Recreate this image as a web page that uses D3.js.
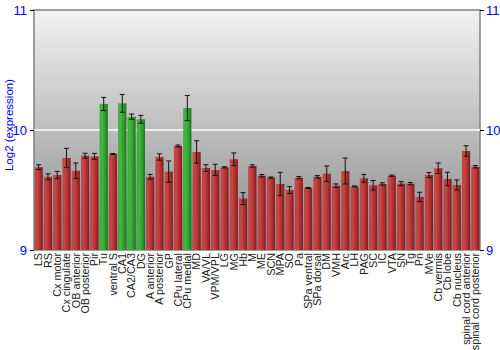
<!DOCTYPE html>
<html>
<head>
<meta charset="utf-8">
<script src="https://cdn.jsdelivr.net/npm/d3@7"></script>
<style>
  body { margin: 0; background: #fff; }
  text { font-family: "Liberation Sans", Arial, sans-serif; }
</style>
</head>
<body>
<svg id="chart" width="500" height="350"></svg>
<script>
// Regions (x categories)
var regions = ["LS", "RS", "Cx motor", "Cx cingulate", "OB anterior", "OB posterior", "Pir", "Tu",
  "ventral S", "CA1", "CA2/CA3", "DG", "A anterior", "A posterior", "GP", "CPu lateral", "CPu medial",
  "MD", "VA/VL", "VPM/VPL", "LG", "MG", "Hb", "M", "ME", "SCN", "MPA", "SO", "Pa", "SPa ventral",
  "SPa dorsal", "DM", "VMH", "Arc", "LH", "PAG", "SC", "IC", "VTA", "SN", "Tg", "Pn", "MVe",
  "Cb vermis", "Cb lobe", "Cb nucleus", "spinal cord anterior", "spinal cord posterior"];

// Log2 expression per region
var expression = [9.69, 9.61, 9.625, 9.767, 9.66, 9.786, 9.78, 10.217,
  9.80, 10.222, 10.111, 10.089, 9.61, 9.775, 9.653, 9.867, 10.183,
  9.817, 9.683, 9.667, 9.689, 9.756, 9.428, 9.70, 9.619, 9.603, 9.55, 9.50, 9.603, 9.517,
  9.61, 9.636, 9.536, 9.658, 9.53, 9.597, 9.539, 9.55, 9.619, 9.553, 9.553, 9.442, 9.625,
  9.681, 9.592, 9.542, 9.825, 9.694];

// Error (half range) per region
var errors = [0.02, 0.025, 0.03, 0.08, 0.065, 0.02, 0.025, 0.055,
  0.004, 0.074, 0.022, 0.033, 0.02, 0.026, 0.089, 0.008, 0.105,
  0.093, 0.028, 0.047, 0.005, 0.053, 0.05, 0.01, 0.01, 0.005, 0.097, 0.028, 0.01, 0.004,
  0.01, 0.064, 0.015, 0.108, 0.004, 0.033, 0.04, 0.01, 0.005, 0.017, 0.01, 0.039, 0.02,
  0.044, 0.056, 0.042, 0.044, 0.01];

// Highlighted (green) regions
var highlighted = ["Tu", "CA1", "CA2/CA3", "DG", "CPu medial"];

var yTicks = [9, 10, 11];

var svg = d3.select("#chart"),
    margin = { top: 10, right: 20, bottom: 100, left: 34 },
    width = 500 - margin.left - margin.right,
    height = 350 - margin.top - margin.bottom;

var defs = svg.append("defs");

var bg = defs.append("linearGradient").attr("id", "bg")
    .attr("x1", 0).attr("y1", 0).attr("x2", 0).attr("y2", 1);
bg.append("stop").attr("offset", "0%").attr("stop-color", "#f2f2f2");
bg.append("stop").attr("offset", "100%").attr("stop-color", "#888888");

function barGradient(id, c0, c1, c2, c3) {
  var g = defs.append("linearGradient").attr("id", id)
      .attr("x1", 0).attr("y1", 0).attr("x2", 1).attr("y2", 0);
  g.append("stop").attr("offset", "0%").attr("stop-color", c0);
  g.append("stop").attr("offset", "30%").attr("stop-color", c1);
  g.append("stop").attr("offset", "75%").attr("stop-color", c2);
  g.append("stop").attr("offset", "100%").attr("stop-color", c3);
}
barGradient("red", "#b84848", "#c84444", "#a82a2a", "#7c1a1a");
barGradient("green", "#3aa83a", "#40b840", "#2a962a", "#186e18");

var g = svg.append("g").attr("transform", "translate(" + margin.left + "," + margin.top + ")");

var x = d3.scaleBand().domain(regions).range([0, width]).paddingInner(0.12).paddingOuter(0.06);
var y = d3.scaleLinear().domain([9, 11]).range([height, 0]);

g.append("rect").attr("width", width).attr("height", height)
    .attr("fill", "url(#bg)").attr("stroke", "#808080").attr("stroke-width", 1.5);

// reference line at 10
g.append("line").attr("x1", 0).attr("x2", width)
    .attr("y1", y(10)).attr("y2", y(10))
    .attr("stroke", "#eeeeee").attr("stroke-width", 2);

var data = regions.map(function(r, i) {
  return { name: r, value: expression[i], err: errors[i] };
});

g.selectAll(".bar").data(data).enter().append("rect")
    .attr("class", "bar")
    .attr("x", function(d) { return x(d.name); })
    .attr("width", x.bandwidth())
    .attr("y", function(d) { return y(d.value); })
    .attr("height", function(d) { return height - y(d.value); })
    .attr("fill", function(d) { return highlighted.indexOf(d.name) >= 0 ? "url(#green)" : "url(#red)"; });

var eb = g.selectAll(".err").data(data).enter().append("g").attr("class", "err")
    .attr("stroke", "#111").attr("stroke-width", 1);
eb.append("line")
    .attr("x1", function(d) { return x(d.name) + x.bandwidth() / 2; })
    .attr("x2", function(d) { return x(d.name) + x.bandwidth() / 2; })
    .attr("y1", function(d) { return y(d.value + d.err); })
    .attr("y2", function(d) { return y(d.value - d.err); });
eb.append("line")
    .attr("x1", function(d) { return x(d.name) + x.bandwidth() / 2 - 2.5; })
    .attr("x2", function(d) { return x(d.name) + x.bandwidth() / 2 + 2.5; })
    .attr("y1", function(d) { return y(d.value + d.err); })
    .attr("y2", function(d) { return y(d.value + d.err); });
eb.append("line")
    .attr("x1", function(d) { return x(d.name) + x.bandwidth() / 2 - 2.5; })
    .attr("x2", function(d) { return x(d.name) + x.bandwidth() / 2 + 2.5; })
    .attr("y1", function(d) { return y(d.value - d.err); })
    .attr("y2", function(d) { return y(d.value - d.err); });

// y axes left and right
function styleAxis(sel) {
  sel.select(".domain").remove();
  sel.selectAll(".tick line").attr("stroke", "#000");
  sel.selectAll(".tick text").attr("fill", "#0000ff").style("font-size", "13px");
}
g.append("g").call(d3.axisLeft(y).tickValues(yTicks).tickFormat(d3.format("d")).tickSize(4).tickPadding(3))
    .call(styleAxis);
g.append("g").attr("transform", "translate(" + width + ",0)")
    .call(d3.axisRight(y).tickValues(yTicks).tickFormat(d3.format("d")).tickSize(4).tickPadding(2))
    .call(styleAxis);

// x labels
var xa = g.append("g").attr("transform", "translate(0," + height + ")")
    .call(d3.axisBottom(x).tickSize(0).tickPadding(0));
xa.select(".domain").remove();
xa.selectAll(".tick text")
    .attr("transform", "rotate(-90)")
    .attr("x", -3).attr("y", 0).attr("dy", "0.35em")
    .style("text-anchor", "end")
    .style("font-size", "10.8px")
    .attr("fill", "#222");

svg.append("text")
    .attr("transform", "translate(13," + (margin.top + height / 2 - 5) + ") rotate(-90)")
    .attr("text-anchor", "middle")
    .attr("fill", "#0000ff")
    .style("font-size", "11.5px")
    .text("Log2 (expression)");
</script>
</body>
</html>
